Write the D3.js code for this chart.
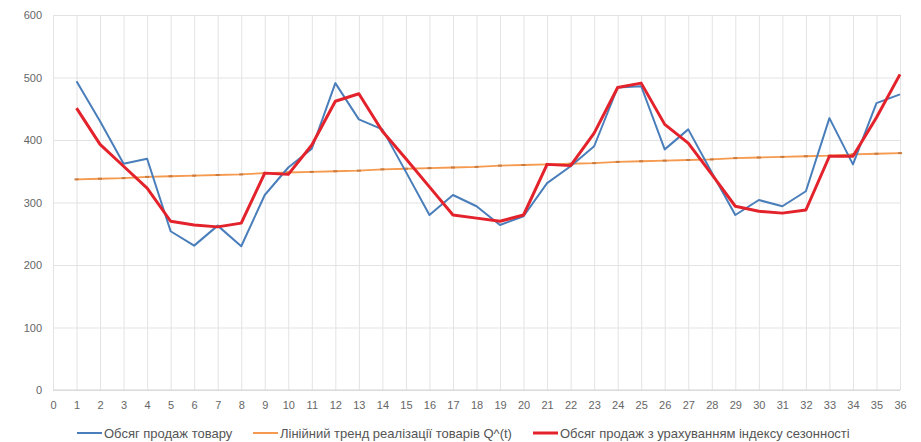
<!DOCTYPE html>
<html>
<head>
<meta charset="utf-8">
<script src="https://cdn.jsdelivr.net/npm/d3@7/dist/d3.min.js"></script>
<style>
  html, body { margin: 0; padding: 0; background: #fff; }
  svg { display: block; font-family: "Liberation Sans", Arial, sans-serif; }
  .grid line { stroke: #e3e3e3; stroke-width: 1; }
  .grid path { display: none; }
  .tick text { fill: #666; font-size: 11px; }
  .legend text { fill: #555; font-size: 13px; }
</style>
</head>
<body>
<svg id="chart" width="921" height="442"></svg>
<script>
// Periods (x axis categories)
const periods = d3.range(0, 37);
const yTicks = [0, 100, 200, 300, 400, 500, 600];

// Series values for periods 1..36
const sales = [494, 430, 362, 370, 254, 231, 263, 230, 312, 356, 386, 491,
               433, 417, 349, 280, 312, 294, 264, 278, 331, 358, 390, 484,
               486, 385, 417, 348, 280, 304, 294, 318, 435, 361, 459, 473];

const trend = [337, 338, 339, 341, 342, 343, 344, 345, 347, 348, 349, 350,
               351, 353, 354, 355, 356, 357, 359, 360, 361, 362, 363, 365,
               366, 367, 368, 369, 371, 372, 373, 374, 375, 377, 378, 379];

const seasonal = [451, 393, 358, 323, 270, 264, 261, 267, 347, 345, 392, 462,
                  474, 414, 370, 325, 280, 275, 270, 280, 361, 359, 411, 484,
                  491, 425, 395, 345, 294, 286, 283, 288, 374, 374, 436, 505];

const seriesNames = [
  "Обсяг продаж товару",
  "Лінійний тренд реалізації товарів Q^(t)",
  "Обсяг продаж з урахуванням індексу сезонності"
];
const seriesColors = ["#4a7ebb", "#f59a4f", "#e3222b"];

const svg = d3.select("#chart");
const x = d3.scaleLinear().domain([0, 36]).range([53, 900]);
const y = d3.scaleLinear().domain([0, 600]).range([390, 15]);

// Horizontal grid with y labels
svg.append("g")
  .attr("class", "grid")
  .attr("transform", `translate(${x(0)},0)`)
  .call(d3.axisLeft(y).tickValues(yTicks).tickSize(-(x(36) - x(0))).tickPadding(11))
  .call(g => g.selectAll(".tick line").attr("stroke", "#dedede"));

// Vertical grid with period labels
svg.append("g")
  .attr("class", "grid")
  .attr("transform", `translate(0,${y(0)})`)
  .call(d3.axisBottom(x).tickValues(periods).tickFormat(d3.format("d"))
    .tickSize(-(y(0) - y(600))).tickPadding(11))
  .call(g => g.selectAll(".tick line").attr("stroke", "#ececec"));

// Base line at zero
svg.append("line")
  .attr("x1", x(0)).attr("x2", x(36))
  .attr("y1", y(0)).attr("y2", y(0))
  .attr("stroke", "#d4d4d4");

const pts = arr => arr.map((v, i) => [i + 1, v]);
const line = d3.line().x(d => x(d[0])).y(d => y(d[1]));

// Linear trend with small markers
svg.append("path")
  .attr("d", line(pts(trend)))
  .attr("fill", "none")
  .attr("stroke", seriesColors[1])
  .attr("stroke-width", 1.8);
svg.append("g").selectAll("rect")
  .data(pts(trend))
  .join("rect")
  .attr("x", d => x(d[0]) - 2)
  .attr("y", d => y(d[1]) - 1)
  .attr("width", 4).attr("height", 2)
  .attr("fill", "#c97a3e");

// Actual sales
svg.append("path")
  .attr("d", line(pts(sales)))
  .attr("fill", "none")
  .attr("stroke", seriesColors[0])
  .attr("stroke-width", 2)
  .attr("stroke-linejoin", "round");

// Seasonally adjusted sales
svg.append("path")
  .attr("d", line(pts(seasonal)))
  .attr("fill", "none")
  .attr("stroke", seriesColors[2])
  .attr("stroke-width", 3)
  .attr("stroke-linejoin", "round");

// Legend
const legendX = [77, 253, 533];
const legend = svg.append("g").attr("class", "legend");
seriesNames.forEach((name, i) => {
  const g = legend.append("g").attr("transform", `translate(${legendX[i]},433)`);
  g.append("line")
    .attr("x1", 0).attr("x2", 25).attr("y1", 0).attr("y2", 0)
    .attr("stroke", seriesColors[i])
    .attr("stroke-width", i === 2 ? 3 : 2);
  g.append("text")
    .attr("x", 27).attr("y", 4.5)
    .text(name);
});
</script>
</body>
</html>
